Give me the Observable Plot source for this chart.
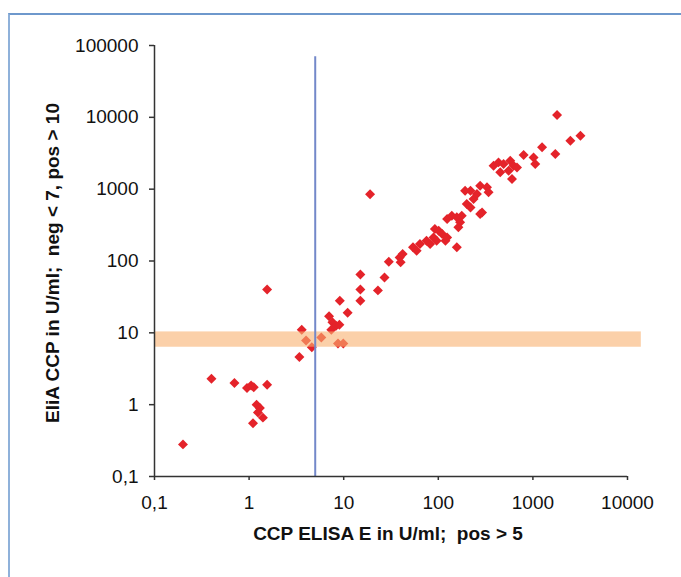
<!DOCTYPE html>
<html>
<head>
<meta charset="utf-8">
<script src="https://cdn.jsdelivr.net/npm/d3@7"></script>
<script src="https://cdn.jsdelivr.net/npm/@observablehq/plot@0.6"></script>
<style>
  html, body { margin: 0; padding: 0; background: #fff; }
  #wrap { position: relative; width: 681px; height: 577px; overflow: hidden; }
  #frame { position: absolute; left: 8px; top: 13px; width: 700px; height: 600px;
           border-top: 2px solid #6e98cc; border-left: 2px solid #8fb1da; box-sizing: border-box; }
  #chart { position: absolute; left: 0; top: 0; }
</style>
</head>
<body>
<div id="wrap"><div id="frame"></div><div id="chart"></div></div>
<script>
// CCP ELISA E (U/ml) vs. EliA CCP (U/ml), one entry per sample
const elisaE = [
  0.2, 0.4, 0.7, 0.95, 1.05, 1.12, 1.55, 1.2, 1.3, 1.24, 1.4, 1.1, 1.55,
  3.4, 3.6, 4.0, 4.6, 5.8, 8.7, 9.9,
  7.0, 7.6, 8.3, 9.0, 7.4, 9.1, 11, 15, 15, 15, 19, 23, 27, 30, 39, 42, 40,
  54, 59, 64, 75, 82, 89, 96, 92, 101, 110, 119, 124, 157,
  124, 139, 157, 177, 170, 163, 200, 219, 236, 256, 219, 192,
  277, 327, 340, 277, 290,
  384, 433, 490, 576, 625, 679, 554, 601, 452,
  798, 1017, 1059, 1250, 1726, 1800, 2490, 3180
];
const eliaCCP = [
  0.28, 2.3, 2.0, 1.7, 1.85, 1.75, 1.9, 1.0, 0.9, 0.78, 0.66, 0.55, 40,
  4.6, 11, 7.8, 6.3, 8.6, 7.1, 7.1,
  17, 14, 12.5, 13, 11, 28, 19, 65, 40, 28, 850, 39, 59, 98, 112, 125, 96,
  155, 139, 173, 192, 173, 213, 192, 279, 264, 237, 192, 213, 155,
  385, 428, 405, 428, 345, 294, 622, 557, 730, 857, 953, 953,
  1120, 1060, 903, 452, 475,
  2120, 2360, 2240, 2495, 2120, 2010, 1810, 1387, 1715,
  2990, 2770, 2244, 3820, 3090, 10800, 4730, 5560
];

// cut-offs
const elisaCutoff = 5;          // ELISA E: pos > 5
const eliaGrey = [6.3, 10.3];   // EliA CCP equivocal zone: neg < 7, pos > 10

// axis ticks and their labels
const xTicks = [0.1, 1, 10, 100, 1000, 10000];
const xTickLabels = ["0,1", "1", "10", "100", "1000", "10000"];
const yTicks = [0.1, 1, 10, 100, 1000, 10000, 100000];
const yTickLabels = ["0,1", "1", "10", "100", "1000", "10000", "100000"];

const xTitle = "CCP ELISA E in U/ml;  pos > 5";
const yTitle = "EliA CCP in U/ml;  neg < 7, pos > 10";

const samples = elisaE.map((x, i) => ({x, y: eliaCCP[i]}));

const chart = Plot.plot({
  width: 681,
  height: 577,
  marginLeft: 154,
  marginRight: 54,
  marginTop: 45,
  marginBottom: 101,
  style: {fontFamily: "'Liberation Sans', Arial, sans-serif", fontSize: "19px", color: "#111", background: "transparent"},
  x: {type: "log", domain: [0.1, 10000], axis: null},
  y: {type: "log", domain: [0.1, 100000], axis: null},
  marks: [
    Plot.dot(samples, {x: "x", y: "y", symbol: "diamond2", r: 4.5, fill: "#e4232a", stroke: "none"}),
    Plot.rect([eliaGrey], {x1: 0.1, x2: 14000, y1: d => d[0], y2: d => d[1], fill: "#f8b070", fillOpacity: 0.6}),
    Plot.ruleX([elisaCutoff], {y1: 0.1, y2: 70000, stroke: "#7388c9", strokeWidth: 2}),
    Plot.ruleX([0.1], {y1: 0.1, y2: 100000, stroke: "#333", strokeWidth: 1.5}),
    Plot.ruleY([0.1], {x1: 0.1, x2: 10000, stroke: "#333", strokeWidth: 1.5}),
    Plot.axisX({ticks: xTicks, tickFormat: d => xTickLabels[xTicks.indexOf(d)], tickSize: 4, tickPadding: 15, label: null, stroke: "#333", strokeWidth: 1.5, fontSize: 19, fill: "#111"}),
    Plot.axisY({ticks: yTicks, tickFormat: d => yTickLabels[yTicks.indexOf(d)], tickSize: 5, tickPadding: 11, label: null, stroke: "#333", strokeWidth: 1.5, fontSize: 19, fill: "#111"}),
    Plot.text([xTitle], {frameAnchor: "bottom", dy: 63, dx: -3, fontWeight: "bold", fontSize: 19, fill: "#111"}),
    Plot.text([yTitle], {frameAnchor: "left", textAnchor: "middle", dx: -102, dy: 2, rotate: -90, fontWeight: "bold", fontSize: 19, fill: "#111"})
  ]
});
document.getElementById("chart").appendChild(chart);
</script>
</body>
</html>
